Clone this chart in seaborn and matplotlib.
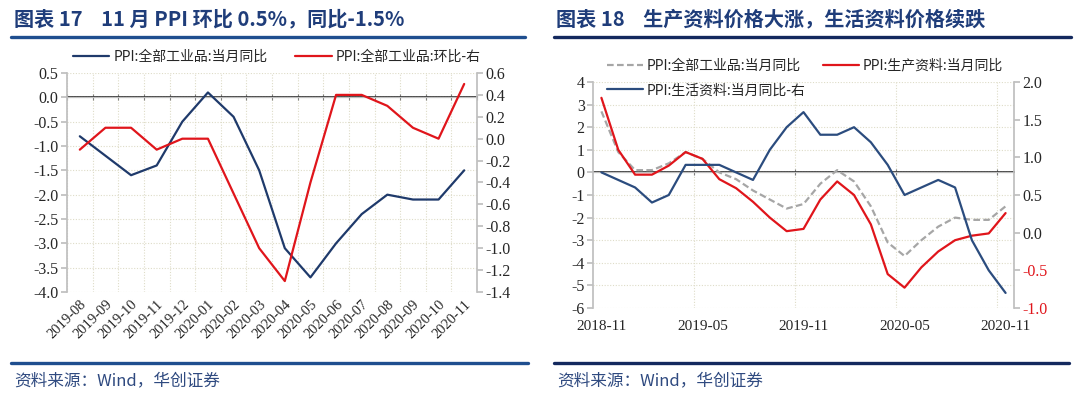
"""图表 17/18：PPI 同比、环比与生产/生活资料价格。"""

import matplotlib.pyplot as plt
import matplotlib.ticker as mticker
import pandas as pd
import seaborn as sns

# ---- 图表 17 数据 ----
months_17 = [
    "2019-08", "2019-09", "2019-10", "2019-11", "2019-12", "2020-01",
    "2020-02", "2020-03", "2020-04", "2020-05", "2020-06", "2020-07",
    "2020-08", "2020-09", "2020-10", "2020-11",
]
ppi_yoy_17 = [-0.8, -1.2, -1.6, -1.4, -0.5, 0.1, -0.4, -1.5, -3.1, -3.7,
              -3.0, -2.4, -2.0, -2.1, -2.1, -1.5]
ppi_mom_17 = [-0.1, 0.1, 0.1, -0.1, 0.0, 0.0, -0.5, -1.0, -1.3, -0.4,
              0.4, 0.4, 0.3, 0.1, 0.0, 0.5]

# ---- 图表 18 数据 ----
months_18 = [
    "2018-11", "2018-12", "2019-01", "2019-02", "2019-03", "2019-04",
    "2019-05", "2019-06", "2019-07", "2019-08", "2019-09", "2019-10",
    "2019-11", "2019-12", "2020-01", "2020-02", "2020-03", "2020-04",
    "2020-05", "2020-06", "2020-07", "2020-08", "2020-09", "2020-10",
    "2020-11",
]
ppi_all_18 = [2.7, 0.9, 0.1, 0.1, 0.4, 0.9, 0.6, 0.0, -0.3, -0.8, -1.2,
              -1.6, -1.4, -0.5, 0.1, -0.4, -1.5, -3.1, -3.7, -3.0, -2.4,
              -2.0, -2.1, -2.1, -1.5]
ppi_producer_18 = [3.3, 1.0, -0.1, -0.1, 0.3, 0.9, 0.6, -0.3, -0.7, -1.3,
                   -2.0, -2.6, -2.5, -1.2, -0.4, -1.0, -2.3, -4.5, -5.1,
                   -4.2, -3.5, -3.0, -2.8, -2.7, -1.8]
ppi_consumer_18 = [0.8, 0.7, 0.6, 0.4, 0.5, 0.9, 0.9, 0.9, 0.8, 0.7, 1.1,
                   1.4, 1.6, 1.3, 1.3, 1.4, 1.2, 0.9, 0.5, 0.6, 0.7, 0.6,
                   -0.1, -0.5, -0.8]

NAVY = "#1F3A6B"
RED = "#E0151B"
GRAY = "#A6A6A6"
TITLE_BLUE = "#1F3D7A"
GRID = "#DEDCC8"
AXIS_GRAY = "#BFBFBF"
CJK = ["Noto Sans CJK SC", "DejaVu Sans"]
NUM = ["Liberation Serif", "DejaVu Serif"]
NUM_SIZE = 11.5

sns.set_theme(style="white")
plt.rcParams["font.family"] = CJK
plt.rcParams["axes.unicode_minus"] = False


def style_axis(ax, ylim, ystep, xmax):
    ax.set_xlim(-0.5, xmax)
    ax.set_ylim(*ylim)
    ax.yaxis.set_major_locator(mticker.MultipleLocator(ystep))
    for s in ("top", "right", "bottom"):
        ax.spines[s].set_visible(False)
    ax.spines["left"].set_color(AXIS_GRAY)
    ax.tick_params(axis="y", left=True, length=4, color=AXIS_GRAY,
                   labelsize=NUM_SIZE, pad=2)
    ax.grid(axis="y", color=GRID, linestyle=(0, (1, 1.5)), linewidth=0.8)
    ax.axhline(0, color=AXIS_GRAY, linewidth=0.9, zorder=1)
    for lab in ax.get_yticklabels():
        lab.set_fontfamily(NUM)


def style_right(ax, ylim, ystep):
    ax.set_ylim(*ylim)
    ax.yaxis.set_major_locator(mticker.MultipleLocator(ystep))
    ax.yaxis.set_major_formatter(mticker.FormatStrFormatter("%.1f"))
    ax.set_ylabel("")
    for s in ("top", "left", "bottom"):
        ax.spines[s].set_visible(False)
    ax.spines["right"].set_color(AXIS_GRAY)
    ax.tick_params(axis="y", right=True, length=4, color=AXIS_GRAY,
                   labelsize=NUM_SIZE, pad=2)
    ax.grid(False)
    for lab in ax.get_yticklabels():
        lab.set_fontfamily(NUM)


def zero_axis(ax, boundaries):
    ymin, ymax = ax.get_ylim()
    sec = ax.secondary_xaxis((0 - ymin) / (ymax - ymin))
    sec.set_xticks(boundaries)
    sec.set_xticklabels([])
    sec.tick_params(direction="inout", length=5, color="#808080", width=0.8)
    sec.spines["bottom"].set_visible(False)
    for b in boundaries:
        ax.axvline(b, color=GRID, linestyle=(0, (1, 1.5)), linewidth=0.8,
                   zorder=0)


fig = plt.figure(figsize=(10.8, 3.96), dpi=100)

# ===================== 图表 17 =====================
ax1 = fig.add_axes([67 / 1080, 1 - 292 / 396, 410 / 1080, 219 / 396])
df17 = pd.DataFrame({"month": months_17, "yoy": ppi_yoy_17, "mom": ppi_mom_17})
sns.lineplot(data=df17, x="month", y="yoy", color=NAVY, linewidth=1.6,
             ax=ax1, label="PPI:全部工业品:当月同比", legend=False)
ax1r = ax1.twinx()
sns.lineplot(data=df17, x="month", y="mom", color=RED, linewidth=1.6,
             ax=ax1r, label="PPI:全部工业品:环比-右", legend=False)
style_axis(ax1, (-4.0, 0.5), 0.5, len(months_17) - 0.5)
ax1.yaxis.set_major_formatter(mticker.FormatStrFormatter("%.1f"))
ax1.set_xlabel("")
ax1.set_ylabel("")
ax1.set_xticks(range(len(months_17)))
ax1.set_xticklabels(months_17, rotation=45, ha="right", rotation_mode="anchor",
                    fontsize=10.5, fontfamily=NUM)
ax1.tick_params(axis="x", length=0, pad=4)
zero_axis(ax1, [i - 0.5 for i in range(len(months_17) + 1)])
style_right(ax1r, (-1.4, 0.6), 0.2)

h1, l1 = ax1.get_legend_handles_labels()
h2, l2 = ax1r.get_legend_handles_labels()
fig.legend(h1 + h2, l1 + l2, loc="center",
           bbox_to_anchor=(277 / 1080, 1 - 57 / 396),
           ncol=2, frameon=False, fontsize=10, handlelength=2.6,
           columnspacing=2.0, handletextpad=0.3)

# ===================== 图表 18 =====================
ax2 = fig.add_axes([593 / 1080, 1 - 308 / 396, 421 / 1080, 226 / 396])
df18 = pd.DataFrame({"month": months_18, "all": ppi_all_18,
                     "producer": ppi_producer_18, "consumer": ppi_consumer_18})
sns.lineplot(data=df18, x="month", y="all", color=GRAY, linewidth=1.6,
             linestyle=(0, (3, 1.5)), ax=ax2, label="PPI:全部工业品:当月同比",
             legend=False)
sns.lineplot(data=df18, x="month", y="producer", color=RED, linewidth=1.6,
             ax=ax2, label="PPI:生产资料:当月同比", legend=False)
ax2r = ax2.twinx()
sns.lineplot(data=df18, x="month", y="consumer", color="#2B4C7E",
             linewidth=1.6, ax=ax2r, label="PPI:生活资料:当月同比-右",
             legend=False)
style_axis(ax2, (-6, 4), 1, len(months_18) - 0.5)
ax2.set_xlabel("")
ax2.set_ylabel("")
tick_idx = list(range(0, len(months_18), 6))
ax2.set_xticks(tick_idx)
ax2.set_xticklabels([months_18[i] for i in tick_idx], fontsize=11,
                    fontfamily=NUM)
ax2.tick_params(axis="x", length=0, pad=9)
zero_axis(ax2, [i + 5.5 for i in range(0, len(months_18) - 1, 6)])
style_right(ax2r, (-1.0, 2.0), 0.5)
for lab, val in zip(ax2r.get_yticklabels(), ax2r.get_yticks()):
    if val < 0:
        lab.set_color(RED)

h1, l1 = ax2.get_legend_handles_labels()
h2, l2 = ax2r.get_legend_handles_labels()
fig.legend([h1[0], h2[0], h1[1]], [l1[0], l2[0], l1[1]], loc="center",
           bbox_to_anchor=(805 / 1080, 1 - 78 / 396), ncol=2, frameon=False,
           fontsize=10, handlelength=2.6, columnspacing=1.2,
           handletextpad=0.3, labelspacing=0.75)

# ===================== 标题与来源 =====================
fig.text(14 / 1080, 1 - 19 / 396, "图表 17    11 月 PPI 环比 0.5%，同比-1.5%",
         fontsize=14.5, fontweight="bold", color=TITLE_BLUE, va="center")
fig.text(556 / 1080, 1 - 19 / 396, "图表 18    生产资料价格大涨，生活资料价格续跌",
         fontsize=14.5, fontweight="bold", color=TITLE_BLUE, va="center")
for x0, x1, c in ((11, 525, "#1F4E8F"), (554, 1071, "#14295E")):
    fig.add_artist(plt.Line2D([x0 / 1080, x1 / 1080], [1 - 37 / 396] * 2,
                              color=c, linewidth=2.4))
for x0, x1, c in ((11, 528, "#1F4E8F"), (554, 1069, "#14295E")):
    fig.add_artist(plt.Line2D([x0 / 1080, x1 / 1080], [1 - 363 / 396] * 2,
                              color=c, linewidth=2.4))
for x0 in (14, 557):
    fig.text(x0 / 1080, 1 - 381 / 396, "资料来源：Wind，华创证券", fontsize=12,
             color="#2F4A80", va="center", style="italic")

fig.savefig("out.png", dpi=100)
